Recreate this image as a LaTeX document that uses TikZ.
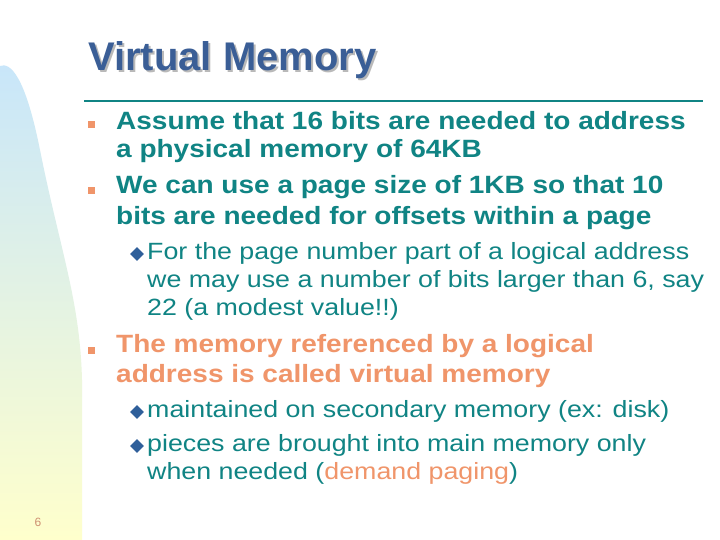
\documentclass[tikz,border=0pt]{standalone}
\usepackage{fontspec}
\usepackage{graphicx}
\usetikzlibrary{shapes.geometric}
\setmainfont{Liberation Sans}
\definecolor{teal1}{HTML}{108484}
\definecolor{orng}{HTML}{F0956A}
\definecolor{ttl}{HTML}{3A5E96}
\definecolor{dia}{HTML}{2F5F9A}
\definecolor{lblue}{HTML}{C8E6FA}
\definecolor{lyel}{HTML}{FFFFCC}
\newcommand{\mx}[1]{\scalebox{1.12}[1]{#1}}
\newcommand{\sx}[1]{\scalebox{1.14}[1]{#1}}
\begin{document}
\begin{tikzpicture}[x=1pt,y=-1pt,
  main/.style={anchor=west,inner sep=0pt,font=\fontsize{25}{25}\selectfont\bfseries,text=teal1},
  hot/.style={main,text=orng},
  sub/.style={anchor=west,inner sep=0pt,font=\fontsize{23.5}{23.5}\selectfont,text=teal1},
  sq/.style={fill=orng,minimum size=7pt,inner sep=0pt},
  dm/.style={fill=dia,diamond,minimum width=14pt,minimum height=14pt,inner sep=0pt}]
\useasboundingbox (0,0) rectangle (720,540);
\fill[white] (0,0) rectangle (720,540);
\shade[top color=lblue,bottom color=lyel] (0,540) -- (0,66) .. controls (10,62) and (25,75) .. (40,150) .. controls (60,250) and (80,300) .. (82,380) -- (82,540) -- cycle;
\node[anchor=west,inner sep=0pt,font=\fontsize{40}{40}\selectfont\bfseries,text=gray!55] at (90,62) {Virtual Memory};
\node (title) [anchor=west,inner sep=0pt,font=\fontsize{40}{40}\selectfont\bfseries,text=ttl] at (88,60) {Virtual Memory};
\coordinate (la) at (84,101); \coordinate (lb) at (703,101);
\draw[teal1,line width=1.5pt] (la) -- (lb);
\node[sq] (s1) at (91,125) {};
\node[sq] (s2) at (91,191) {};
\node[sq] (s3) at (91,350) {};
\node[main] (t1) at (116,121) {\mx{Assume that 16 bits are needed to address}};
\node[main] (t2) at (116,151) {\mx{a physical memory of 64KB}};
\node[main] (t3) at (116,187) {\mx{We can use a page size of 1KB so that 10}};
\node[main] (t4) at (116,218) {\mx{bits are needed for offsets within a page}};
\node[dm] (d1) at (137,254) {};
\node[sub] (u1) at (147,253) {\sx{For the page number part of a logical address}};
\node[sub] (u2) at (147,281) {\sx{we may use a number of bits larger than 6, say}};
\node[sub] (u3) at (147,309) {\sx{22 (a modest value!!)}};
\node[hot] (h1) at (116,346) {\mx{The memory referenced by a logical}};
\node[hot] (h2) at (116,376) {\mx{address is called virtual memory}};
\node[dm] (d2) at (137,412) {};
\node[sub] (u4) at (147,411) {\sx{maintained on secondary memory (ex: disk)}};
\node[dm] (d3) at (137,446) {};
\node[sub] (u5) at (147,445) {\sx{pieces are brought into main memory only}};
\node[sub] (u6) at (147,473) {\sx{when needed (\textcolor{orng}{demand paging})}};
\node[anchor=center,inner sep=0pt,font=\fontsize{12}{12}\selectfont,text=orng!70!gray] (pg) at (38,522) {6};
\end{tikzpicture}
\end{document}
